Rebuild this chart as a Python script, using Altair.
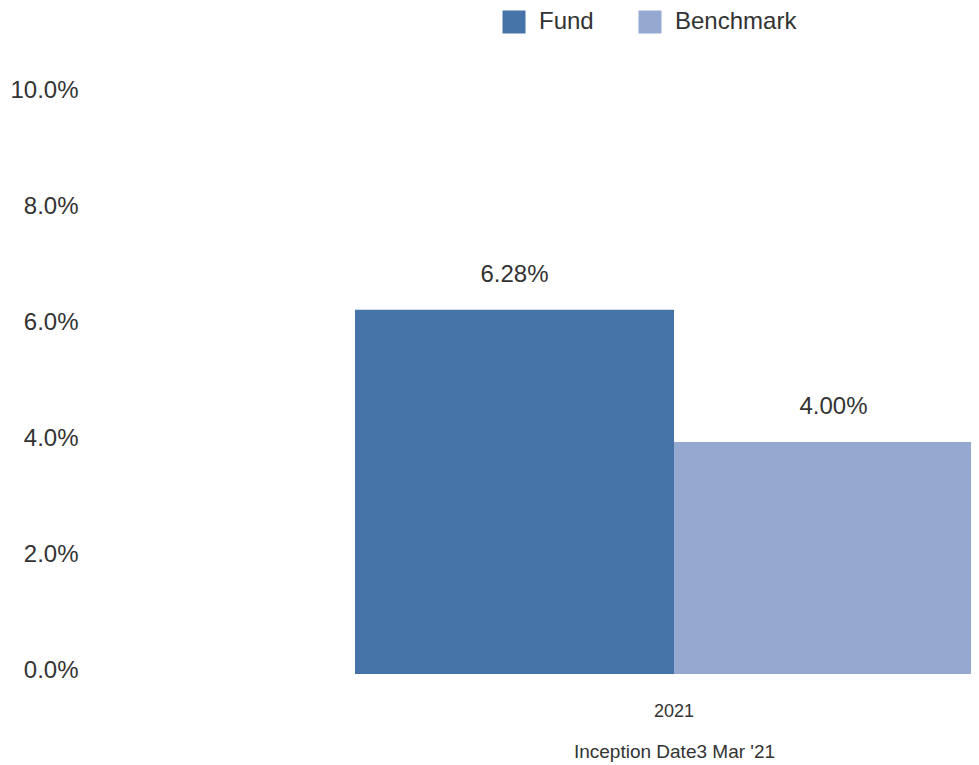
import altair as alt
import pandas as pd

years = ["2021", "2021"]
series = ["Fund", "Benchmark"]
returns = [6.28, 4.00]
y_ticks = [0, 2, 4, 6, 8, 10]
colors = ["#4673a8", "#95a9d0"]
x_title = "Inception Date3 Mar '21"

df = pd.DataFrame({"year": years, "series": series, "ret": returns})

FONT = "Liberation Sans"
TXT = "#333333"

x = alt.X(
    "year:N",
    scale=alt.Scale(range=[267, 905], paddingInner=0, paddingOuter=0),
    axis=alt.Axis(
        title=x_title, labelAngle=0, domain=False, ticks=False, grid=False,
        labelFontSize=18, titleFontSize=19, labelPadding=28, titlePadding=22,
        labelFont=FONT, titleFont=FONT, labelColor=TXT, titleColor=TXT,
        titleFontWeight="normal",
    ),
)
xo = alt.XOffset("series:N", sort=series, scale=alt.Scale(paddingInner=0, paddingOuter=0))
y = alt.Y(
    "ret:Q",
    scale=alt.Scale(domain=[0, 10], nice=False),
    axis=alt.Axis(
        title=None, values=y_ticks, domain=False, ticks=False, grid=False,
        labelExpr="format(datum.value, '.1f') + '%'",
        labelFontSize=24, labelFont=FONT, labelColor=TXT, labelPadding=10,
        labelOffset=-4,
    ),
)

bars = alt.Chart(df).mark_bar(clip=True).encode(
    x=x, xOffset=xo, y=y,
    color=alt.Color(
        "series:N", sort=series,
        scale=alt.Scale(domain=series, range=colors),
        legend=alt.Legend(
            title=None, orient="none", direction="horizontal",
            legendX=414, legendY=-84, padding=0,
            symbolType="square", symbolSize=529, symbolStrokeWidth=0,
            labelFontSize=24, labelFont=FONT, labelColor=TXT,
            labelOffset=13, columnPadding=44,
        ),
    ),
)

labels = alt.Chart(df).transform_calculate(
    lbl="format(datum.ret, '.2f') + '%'"
).mark_text(
    baseline="alphabetic", dy=-28, fontSize=24, font=FONT, color=TXT
).encode(x=x, xOffset=xo, y=y, text="lbl:N")

chart = (bars + labels).properties(
    width=883, height=580,
    autosize=alt.AutoSizeParams(type="none"),
    padding={"top": 86, "left": 80, "right": 0, "bottom": 93},
).configure_view(stroke=None)

chart.save("out.html", embed_options={"renderer": "svg", "actions": False})
